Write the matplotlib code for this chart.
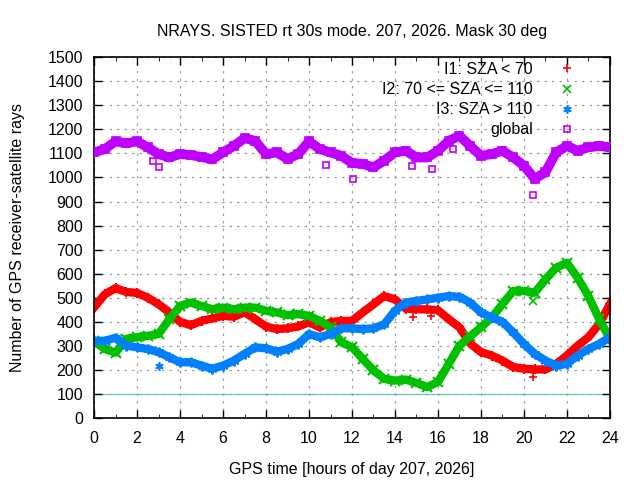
import numpy as np
import matplotlib
matplotlib.use("Agg")
import matplotlib.pyplot as plt

plt.rcParams["font.family"] = ["Liberation Sans", "DejaVu Sans"]

# sample times (hours of day), one reading every half hour
hours = np.arange(0, 24.01, 0.5)

i1_sza_lt70 = [460, 514, 540, 524, 520, 500, 473, 439, 400, 386, 404, 414, 425,
               421, 440, 411, 380, 370, 373, 381, 398, 377, 398, 404, 404, 439,
               473, 507, 493, 455, 452, 452, 448, 411, 377, 310, 274, 260, 239,
               212, 205, 202, 202, 225, 260, 301, 336, 391, 473]
i2_sza_mid = [320, 287, 272, 329, 336, 342, 349, 411, 466, 480, 466, 452, 459,
              452, 459, 459, 446, 439, 428, 432, 425, 404, 377, 315, 295, 246,
              198, 163, 156, 160, 146, 129, 150, 225, 301, 340, 377, 418, 473,
              528, 528, 521, 576, 625, 645, 583, 507, 411, 329]
i3_sza_gt110 = [321, 321, 334, 301, 294, 287, 274, 253, 232, 232, 218, 205, 218,
                239, 267, 294, 290, 276, 287, 308, 349, 336, 349, 373, 373, 370,
                373, 390, 446, 480, 487, 493, 500, 507, 504, 480, 439, 418, 400,
                356, 308, 267, 239, 218, 225, 260, 287, 308, 336]
global_rays = [1104, 1118, 1150, 1142, 1150, 1125, 1097, 1083, 1097, 1093, 1085,
               1075, 1104, 1131, 1163, 1152, 1097, 1104, 1077, 1097, 1150, 1118,
               1104, 1090, 1060, 1056, 1042, 1070, 1104, 1111, 1083, 1083, 1111,
               1152, 1173, 1131, 1090, 1097, 1111, 1083, 1049, 994, 1022, 1104,
               1131, 1111, 1125, 1131, 1125]

# isolated epochs off the main band
i1_out_h = [14.85, 15.67, 20.4]
i1_out_v = [418, 425, 172]
i2_out_h = [20.4]
i2_out_v = [487]
i3_out_h = [3.0]
i3_out_v = [218]
glob_out_h = [2.75, 3.0, 10.78, 12.05, 14.8, 15.7, 16.7, 20.4]
glob_out_v = [1070, 1043, 1052, 994, 1049, 1033, 1118, 926]

RED, GREEN, BLUE, VIOLET = "#ff0000", "#00c000", "#0080ff", "#c000ff"
ASTER = (6, 2, 0)
FS = 11.5

fig = plt.figure(figsize=(6.4, 4.8), dpi=100)
ax = fig.add_axes([0.147, 0.129, 0.806, 0.752])

ax.axhline(100, color="#40d0d0", lw=0.8, zorder=1)

series = [
    (i1_sza_lt70, i1_out_h, i1_out_v, RED, "+", "I1: SZA < 70"),
    (i2_sza_mid, i2_out_h, i2_out_v, GREEN, "x", "I2: 70 <= SZA <= 110"),
    (i3_sza_gt110, i3_out_h, i3_out_v, BLUE, ASTER, "I3: SZA > 110"),
]
for vals, oh, ov, col, mk, lab in series:
    ax.plot(hours, vals, color=col, lw=6, marker=mk, ms=7, mew=1.5, zorder=2)
    ax.plot(oh, ov, ls="none", color=col, marker=mk, ms=6, mew=1.2, label=lab, zorder=2)

ax.plot(hours, global_rays, color=VIOLET, lw=7, marker="s", ms=6, mfc="none",
        mec=VIOLET, mew=1.2, zorder=3)
ax.plot(glob_out_h, glob_out_v, ls="none", marker="s", ms=5, mfc="none",
        mec=VIOLET, mew=1.2, label="global", zorder=3)

ax.set_xlim(0, 24)
ax.set_ylim(0, 1500)
ax.set_xticks(range(0, 25, 2))
ax.set_xticks(range(1, 24, 2), minor=True)
ax.set_yticks(range(0, 1501, 100))
ax.tick_params(direction="in", top=True, right=True, length=6, width=1,
               labelsize=FS)
ax.tick_params(axis="y", pad=8)
ax.tick_params(axis="x", pad=9)
ax.tick_params(which="minor", direction="in", top=True, length=3)
ax.grid(True, which="major", color="#a0a0a0", ls=(0, (2, 4)), lw=0.9)
for sp in ax.spines.values():
    sp.set_linewidth(1.2)

ax.set_title("NRAYS. SISTED rt 30s mode. 207, 2026. Mask 30 deg", fontsize=FS, pad=15)
ax.set_xlabel("GPS time [hours of day 207, 2026]", fontsize=FS, labelpad=12)
ax.set_ylabel("Number of GPS receiver-satellite rays", fontsize=FS, labelpad=16)

ax.legend(loc="upper right", bbox_to_anchor=(579 / 640, 1 - 62 / 480),
          bbox_transform=fig.transFigure, borderaxespad=0, borderpad=0,
          frameon=False, markerfirst=False, fontsize=FS, markerscale=1.0,
          handlelength=1.5, handletextpad=1.4, labelspacing=0.32)

fig.savefig("out.png", dpi=100)
